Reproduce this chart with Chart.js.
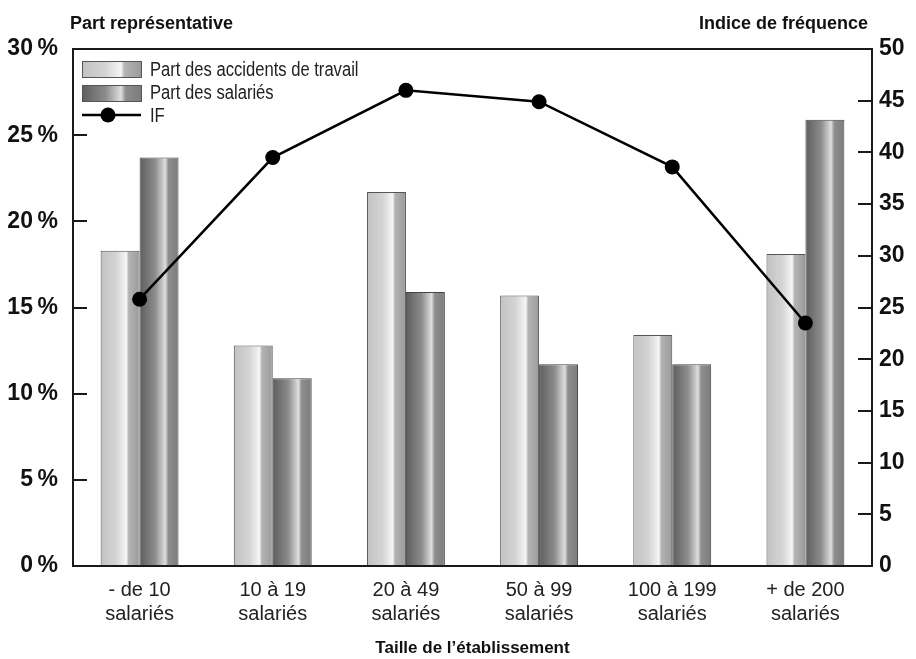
<!DOCTYPE html>
<html lang="fr">
<head>
<meta charset="utf-8">
<title>Part représentative et indice de fréquence</title>
<script src="https://cdn.jsdelivr.net/npm/chart.js@4.4.1/dist/chart.umd.min.js"></script>
<style>
  html, body { margin: 0; padding: 0; background: #fff; }
  #wrap { position: relative; width: 916px; height: 659px; }
</style>
</head>
<body>
<div id="wrap"><canvas id="chart" width="916" height="659"></canvas></div>
<script>
// Data
const categories = [
  ['- de 10', 'salariés'],
  ['10 à 19', 'salariés'],
  ['20 à 49', 'salariés'],
  ['50 à 99', 'salariés'],
  ['100 à 199', 'salariés'],
  ['+ de 200', 'salariés']
];
const partAccidents = [18.3, 12.8, 21.7, 15.7, 13.4, 18.1];
const partSalaries = [23.7, 10.9, 15.9, 11.7, 11.7, 25.9];
const indiceFrequence = [25.8, 39.5, 46.0, 44.9, 38.6, 23.5];
const pctTicks = [0, 5, 10, 15, 20, 25, 30];
const ifTicks = [0, 5, 10, 15, 20, 25, 30, 35, 40, 45, 50];

const FONT = "'Liberation Sans Narrow', 'Arial Narrow', 'Liberation Sans', sans-serif";

// Horizontal "cylinder" gradients
function lightGradient(ctx, x0, x1) {
  const g = ctx.createLinearGradient(x0, 0, x1, 0);
  g.addColorStop(0, '#c2c2c2');
  g.addColorStop(0.4, '#d4d4d4');
  g.addColorStop(0.66, '#f6f6f6');
  g.addColorStop(0.72, '#b4b4b4');
  g.addColorStop(1, '#9a9a9a');
  return g;
}
function darkGradient(ctx, x0, x1) {
  const g = ctx.createLinearGradient(x0, 0, x1, 0);
  g.addColorStop(0, '#5e5e5e');
  g.addColorStop(0.4, '#8c8c8c');
  g.addColorStop(0.66, '#dedede');
  g.addColorStop(0.74, '#8e8e8e');
  g.addColorStop(1, '#7c7c7c');
  return g;
}

// apply gradients to each bar once its position is known (datasets 1 and 2 are bars)
const barGradients = {
  id: 'barGradients',
  beforeDatasetsDraw(chart) {
    const ctx = chart.ctx;
    [1, 2].forEach(di => {
      chart.getDatasetMeta(di).data.forEach(bar => {
        const x0 = bar.x - bar.width / 2;
        const x1 = bar.x + bar.width / 2;
        if (!isFinite(x0) || !isFinite(x1)) return;
        const fill = di === 1 ? lightGradient(ctx, x0, x1) : darkGradient(ctx, x0, x1);
        bar.options = Object.assign({}, bar.options, { backgroundColor: fill });
      });
    });
  }
};

// condensed-looking text for the hand drawn labels
function narrowText(ctx, text, x, y, sx) {
  ctx.save();
  ctx.translate(x, y);
  ctx.scale(sx, 1);
  ctx.fillText(text, 0, 0);
  ctx.restore();
}

// frame, inward ticks, top axis titles, legend
const decorations = {
  id: 'decorations',
  afterDraw(chart) {
    const ctx = chart.ctx;
    const a = chart.chartArea;
    const yl = chart.scales.y;
    const yr = chart.scales.y2;
    ctx.save();
    ctx.strokeStyle = '#1a1a1a';
    ctx.lineWidth = 2;
    ctx.strokeRect(a.left, a.top, a.right - a.left, a.bottom - a.top);

    ctx.beginPath();
    pctTicks.slice(1, -1).forEach(v => {
      const y = Math.round(yl.getPixelForValue(v));
      ctx.moveTo(a.left, y);
      ctx.lineTo(a.left + 14, y);
    });
    ifTicks.slice(1, -1).forEach(v => {
      const y = Math.round(yr.getPixelForValue(v));
      ctx.moveTo(a.right, y);
      ctx.lineTo(a.right - 14, y);
    });
    ctx.stroke();

    ctx.fillStyle = '#111';
    ctx.font = 'bold 18px ' + FONT;
    ctx.textBaseline = 'middle';
    ctx.textAlign = 'left';
    ctx.fillText('Part représentative', 70, 24);
    ctx.textAlign = 'right';
    ctx.fillText('Indice de fréquence', 868, 24);

    // legend
    const lx = a.left + 9, lw = 59, tx = a.left + 77;
    ctx.textAlign = 'left';
    ctx.lineWidth = 1;
    ctx.strokeStyle = '#555';
    ctx.fillStyle = lightGradient(ctx, lx, lx + lw);
    ctx.fillRect(lx, 61, lw, 16);
    ctx.strokeRect(lx + 0.5, 61.5, lw, 16);
    ctx.fillStyle = darkGradient(ctx, lx, lx + lw);
    ctx.fillRect(lx, 85, lw, 16);
    ctx.strokeRect(lx + 0.5, 85.5, lw, 16);

    ctx.strokeStyle = '#000';
    ctx.lineWidth = 2.5;
    ctx.beginPath();
    ctx.moveTo(lx, 115);
    ctx.lineTo(lx + lw, 115);
    ctx.stroke();
    ctx.fillStyle = '#000';
    ctx.beginPath();
    ctx.arc(lx + 26, 115, 7.5, 0, Math.PI * 2);
    ctx.fill();

    ctx.fillStyle = '#222';
    ctx.font = '20px ' + FONT;
    narrowText(ctx, 'Part des accidents de travail', tx, 70, 0.83);
    narrowText(ctx, 'Part des salariés', tx, 93, 0.83);
    narrowText(ctx, 'IF', tx, 116, 0.83);
    ctx.restore();
  }
};

new Chart(document.getElementById('chart'), {
  data: {
    labels: categories,
    datasets: [
      {
        type: 'line',
        label: 'IF',
        data: indiceFrequence,
        yAxisID: 'y2',
        borderColor: '#000',
        borderWidth: 2.5,
        pointRadius: 7.5,
        pointBackgroundColor: '#000',
        pointBorderWidth: 0,
        tension: 0,
        order: 0
      },
      {
        type: 'bar',
        label: 'Part des accidents de travail',
        data: partAccidents,
        yAxisID: 'y',
        backgroundColor: '#ccc',
        borderColor: '#555',
        borderWidth: 1,
        categoryPercentage: 0.585,
        barPercentage: 1,
        order: 1
      },
      {
        type: 'bar',
        label: 'Part des salariés',
        data: partSalaries,
        yAxisID: 'y',
        backgroundColor: '#777',
        borderColor: '#444',
        borderWidth: 1,
        categoryPercentage: 0.585,
        barPercentage: 1,
        order: 2
      }
    ]
  },
  options: {
    responsive: false,
    animation: false,
    layout: { padding: { top: 49, left: 0, right: 0, bottom: 0 } },
    plugins: {
      legend: { display: false },
      tooltip: { enabled: false }
    },
    scales: {
      x: {
        grid: { display: false, drawTicks: false },
        border: { display: false },
        ticks: {
          padding: 12,
          color: '#222',
          font: { family: FONT, size: 20 }
        },
        title: {
          display: true,
          text: 'Taille de l\u2019établissement',
          color: '#111',
          font: { family: FONT, size: 17, weight: 'bold' },
          padding: { top: 0, bottom: 0 }
        },
        afterFit(scale) { scale.height = 93; }
      },
      y: {
        position: 'left',
        min: 0,
        max: 30,
        grid: { display: false, drawTicks: false },
        border: { display: false },
        afterBuildTicks(scale) { scale.ticks = pctTicks.map(v => ({ value: v })); },
        ticks: {
          padding: 15,
          color: '#111',
          font: { family: FONT, size: 23, weight: 'bold' },
          callback: v => v + '\u202F%'
        },
        afterFit(scale) { scale.width = 73; }
      },
      y2: {
        position: 'right',
        min: 0,
        max: 50,
        grid: { display: false, drawTicks: false },
        border: { display: false },
        afterBuildTicks(scale) { scale.ticks = ifTicks.map(v => ({ value: v })); },
        ticks: {
          padding: 7,
          color: '#111',
          font: { family: FONT, size: 23, weight: 'bold' }
        },
        afterFit(scale) { scale.width = 44; }
      }
    }
  },
  plugins: [barGradients, decorations]
});
</script>
</body>
</html>
